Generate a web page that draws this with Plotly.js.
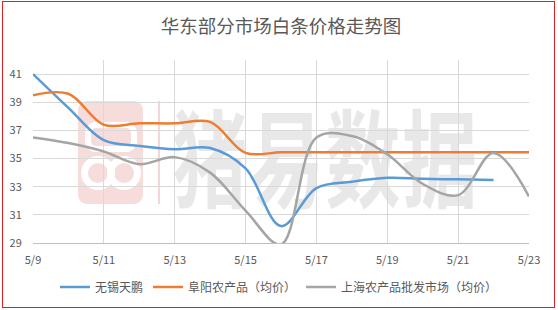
<!DOCTYPE html>
<html>
<head>
<meta charset="utf-8">
<script src="https://cdn.plot.ly/plotly-3.0.1.min.js"></script>
<style>
  html, body { margin: 0; padding: 0; background: #ffffff; }
  #wrap { position: relative; width: 558px; height: 310px; overflow: hidden; background: #ffffff; }
  #chart { position: absolute; left: 0; top: 0; width: 558px; height: 310px; z-index: 2; }
  .wm { position: absolute; z-index: 1; }
  #logo { left: 78px; top: 101px; width: 65px; height: 103px; border-radius: 9px; background: #f7dcdc; }
  #logo .r1 { position: absolute; left: 7px; top: 21px; width: 40px; height: 18px; border: 6px solid #ffffff; border-radius: 11px; }
  #logo .c1 { position: absolute; left: 3px; top: 55px; width: 20px; height: 20px; border: 7px solid #ffffff; border-radius: 50%; }
  #logo .c2 { position: absolute; left: 29px; top: 55px; width: 20px; height: 20px; border: 7px solid #ffffff; border-radius: 50%; }
  #bar { left: 158px; top: 101px; width: 2px; height: 103px; background: #f5d6d6; }
  #wmtext { left: 172px; top: 90px; font-family: "Noto Sans CJK SC", sans-serif; font-weight: 700; font-size: 106px; line-height: 1.2; color: #e8e8e8; transform: scaleX(0.71); transform-origin: left top; white-space: nowrap; letter-spacing: 2px; }
  #frame { position: absolute; left: 2px; top: 1px; width: 551px; height: 305px; border: 1.5px solid #e02020; z-index: 3; pointer-events: none; }
</style>
</head>
<body>
<div id="wrap">
  <div id="logo" class="wm"><div class="r1"></div><div class="c1"></div><div class="c2"></div></div>
  <div id="bar" class="wm"></div>
  <div id="wmtext" class="wm">猪易数据</div>
  <div id="chart"></div>
  <div id="frame"></div>
</div>
<script>
// ---- data ----
const dates = ['5/9','5/10','5/11','5/12','5/13','5/14','5/15','5/16','5/17','5/18','5/19','5/20','5/21','5/22','5/23'];
const tickLabels = ['5/9','5/11','5/13','5/15','5/17','5/19','5/21','5/23'];
const seriesNames = ['无锡天鹏', '阜阳农产品（均价）', '上海农产品批发市场（均价）'];
const wuxi     = [41.0, 38.6, 36.3, 35.9, 35.66, 35.75, 34.3, 30.2, 32.9, 33.35, 33.63, 33.56, 33.52, 33.47];
const fuyang   = [39.5, 39.6, 37.4, 37.5, 37.5, 37.6, 35.4, 35.45, 35.45, 35.45, 35.45, 35.45, 35.45, 35.45, 35.45];
const shanghai = [36.5, 36.1, 35.5, 34.6, 35.1, 34.0, 31.3, 28.9, 36.5, 36.6, 35.3, 33.2, 32.4, 35.4, 32.3];
const colors = ['#5B9BD5', '#ED7D31', '#A5A5A5'];

const allSeries = [wuxi, fuyang, shanghai];
const traces = allSeries.map((vals, i) => ({
  type: 'scatter',
  mode: 'lines',
  name: seriesNames[i],
  x: dates.slice(0, vals.length),
  y: vals,
  line: { color: colors[i], width: 2.5, shape: 'spline', smoothing: 1 },
  hoverinfo: 'skip'
}));

const layout = {
  width: 558,
  height: 310,
  margin: { l: 33, r: 29, t: 60, b: 67 },
  paper_bgcolor: 'rgba(0,0,0,0)',
  plot_bgcolor: 'rgba(0,0,0,0)',
  font: { family: '"Noto Sans CJK SC", sans-serif', color: '#595959', size: 11 },
  title: {
    text: '华东部分市场白条价格走势图',
    font: { family: '"Noto Sans CJK SC", sans-serif', size: 18.5, color: '#595959' },
    x: 0.5, xanchor: 'center', xref: 'paper',
    y: 1 - 27 / 310, yanchor: 'middle', yref: 'container'
  },
  xaxis: {
    type: 'category',
    categoryorder: 'array',
    categoryarray: dates,
    range: [0, dates.length - 1],
    tickmode: 'array',
    tickvals: tickLabels,
    ticktext: tickLabels,
    showgrid: true,
    gridcolor: '#d9d9d9',
    gridwidth: 1,
    showline: true,
    linecolor: '#bfbfbf',
    linewidth: 1,
    zeroline: false,
    ticks: 'outside',
    ticklen: 7,
    tickcolor: 'rgba(0,0,0,0)',
    tickfont: { size: 11, color: '#595959' }
  },
  yaxis: {
    range: [29, 42],
    tick0: 29,
    dtick: 2,
    showgrid: true,
    gridcolor: '#d9d9d9',
    gridwidth: 1,
    showline: false,
    zeroline: false,
    ticks: 'outside',
    ticklen: 8,
    tickcolor: 'rgba(0,0,0,0)',
    tickfont: { size: 11, color: '#595959' }
  },
  showlegend: true,
  legend: {
    orientation: 'h',
    x: 0.5, xanchor: 'center', xref: 'container',
    y: 1 - 287 / 310, yanchor: 'middle', yref: 'container',
    font: { size: 12, color: '#595959' },
    bgcolor: 'rgba(0,0,0,0)',
    itemwidth: 30
  }
};

Plotly.newPlot('chart', traces, layout, { staticPlot: true, displayModeBar: false });
</script>
</body>
</html>
